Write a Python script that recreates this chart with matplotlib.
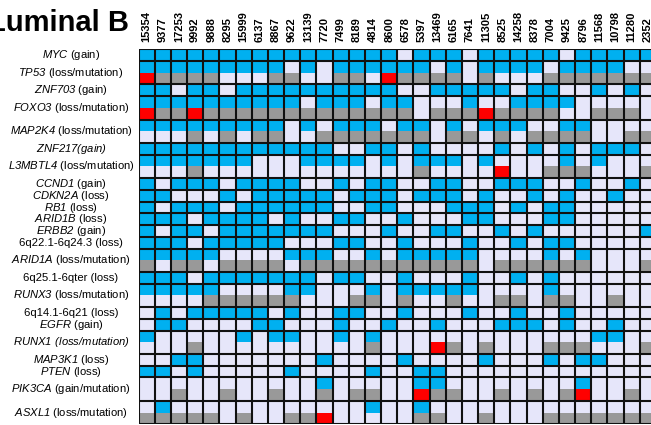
import matplotlib

matplotlib.use("Agg")
import matplotlib.pyplot as plt
import numpy as np
from matplotlib.colors import ListedColormap
from matplotlib.transforms import blended_transform_factory

plt.rcParams["font.family"] = ["Liberation Sans", "DejaVu Sans"]
plt.rcParams["mathtext.fontset"] = "custom"
plt.rcParams["mathtext.rm"] = "Liberation Sans"
# the 'it' slot sets digits upright, so italic gene names go through 'sf'
plt.rcParams["mathtext.sf"] = "Liberation Sans:italic"

samples = [
    "15354", "9377", "17253", "9992", "9888", "8295", "15999", "6137",
    "8867", "9622", "13139", "7720", "7499", "8189", "4814", "8600",
    "6578", "5397", "13469", "6165", "7641", "11305", "8525", "14258",
    "8378", "7004", "9425", "8796", "11568", "10798", "11280", "2352",
]

row_labels = [
    r"$\mathsf{MYC}$ (gain)",
    r"$\mathsf{TP53}$ (loss/mutation)",
    r"$\mathsf{ZNF703}$ (gain)",
    r"$\mathsf{FOXO3}$ (loss/mutation)",
    r"$\mathsf{MAP2K4}$ (loss/mutation)",
    r"$\mathsf{ZNF217(gain)}$",
    r"$\mathsf{L3MBTL4}$ (loss/mutation)",
    r"$\mathsf{CCND1}$ (gain)",
    r"$\mathsf{CDKN2A}$ (loss)",
    r"$\mathsf{RB1}$ (loss)",
    r"$\mathsf{ARID1B}$ (loss)",
    r"$\mathsf{ERBB2}$ (gain)",
    "6q22.1-6q24.3 (loss)",
    r"$\mathsf{ARID1A}$ (loss/mutation)",
    "6q25.1-6qter (loss)",
    r"$\mathsf{RUNX3}$ (loss/mutation)",
    "6q14.1-6q21 (loss)",
    r"$\mathsf{EGFR}$ (gain)",
    r"$\mathsf{RUNX1\ (loss/mutation)}$",
    r"$\mathsf{MAP3K1}$ (loss)",
    r"$\mathsf{PTEN}$ (loss)",
    r"$\mathsf{PIK3CA}$ (gain/mutation)",
    r"$\mathsf{ASXL1}$ (loss/mutation)",
]

# copy number call per sample: B = altered, L = not altered
cna_calls = [
    "BBBBBBBBBBBBBBBBLBBBLBBBBBLBBBBB",  # MYC
    "BBBBBBBBBLBLBBBBBBLBLBBBBLBBBBLL",  # TP53
    "BBLBBLBBBBBBBBBBLLBBBBBLBBLLBLBL",  # ZNF703
    "BBBBBBBBBBLBBBLBBLLLBLLBBBBLLLLL",  # FOXO3
    "BBBBBBBBBLBLBBBLBBLBLBBBLLBBLLLL",  # MAP2K4
    "BBBBBBBBBBBBLLBBLBLLLLBLBLBLBBBL",  # ZNF217
    "BBBBBBBLLLBBBBLBLBBBLBLLLLBLBLLL",  # L3MBTL4
    "BLBBBLBBBBLLBLBBLLBBLLBBBLLBLLBL",  # CCND1
    "BBLLLBLBBBBBLBBBLBBBLBLLBLBLLBLL",  # CDKN2A
    "BLBBBLBBBBBBLLBBLLLBBBLBLBBLLLLL",  # RB1
    "BBBLBBBBLBLLBBLLBLLLBBLLLBBLLLLL",  # ARID1B
    "BLBBLBBBBBBBLLLBLLBBLLBLBLLLLLLB",  # ERBB2
    "BBBLBBBBBLLLBBLLBLLLBLLBLBBLLLLL",  # 6q22.1-6q24.3
    "BBBBBLLLLBBBLLBLBBBBBLLLLBLBLLLL",  # ARID1A
    "BBBLBBBBBBBLBBLLBLLLBLLBLBLLLLLL",  # 6q25.1-6qter
    "BBBBBLLLLBBLLLBLBBBBBLLLLBLLLLLL",  # RUNX3
    "LBLBBBBBLBLLBBLLBLLLBLLBLLBLLLLL",  # 6q14.1-6q21
    "LBBLLLLBBLLLBLLBLLBLLLBBBLBLLBLL",  # EGFR
    "BLLLLLBLBBLLBLBLLLLLLLLLLLLLBBLL",  # RUNX1
    "LLBBLLLLLLLBLLLLBLLLLBLLLBLBBLLL",  # MAP3K1
    "BBLBLLLLLBLLLLBLLBBLLLLLLLLLLLLL",  # PTEN
    "LLLLLLLLLLLBLLLLLBBLLLLLLLLBLLLL",  # PIK3CA
    "LBLLLLLLLLLLLLBLLBLLLLLLLLLLLLLL",  # ASXL1
]

# lower half of the split rows: G = mutation, R = red-coded mutation, L = none
mutation_calls = [
    None,
    "RGGGGLLLGGLLGGLRGGGGLGLLLGGGGGGG",  # TP53
    None,
    "RGGRGGGGGGGGGGGGGLGGGRGGGGLLGGGL",  # FOXO3
    "LLLGLGLGGLLGGGGGGGLGGLGLGGGGLLGG",  # MAP2K4
    None,
    "LLLGLLLLLLLLLLLLLGLLLLRLLGGGLLLG",  # L3MBTL4
    None, None, None, None, None, None,
    "GLGGLGGGGLGGGGGGGGGGGLGGGGGGLLLG",  # ARID1A
    None,
    "LLLLGGGGGGLLLGGLGLLGLLGGLGGLLGLL",  # RUNX3
    None, None,
    "LLLGLLLLLLLLLLGLLLRGLGLLLGGGLLLG",  # RUNX1
    None, None,
    "LLGLLGLLGLLGLGGLLRGGLLGLGLGRLLGL",  # PIK3CA
    "GGGGGLGLLGGRLLLLLGGLLGLLLGGGGGGG",  # ASXL1
]

codes = {"L": 0, "B": 1, "G": 2, "R": 3}
cell_colors = ListedColormap(["#e6e6fa", "#00b0f0", "#999999", "#ff0000"])

strips = []
bounds = [0]
for cna, mut in zip(cna_calls, mutation_calls):
    strips.append([codes[c] for c in cna])
    if mut is not None:
        strips.append([codes[c] for c in mut])
    bounds.append(len(strips))
grid = np.array(strips)
n_units, n_cols = grid.shape

fig = plt.figure(figsize=(6.51, 4.25), dpi=100)
ax = fig.add_axes([138.5 / 651, 0.7 / 425, 512.5 / 651, 375 / 425])

ax.pcolormesh(
    np.arange(n_cols + 1), np.arange(n_units + 1), grid,
    cmap=cell_colors, vmin=-0.5, vmax=3.5,
)
ax.vlines(np.arange(n_cols + 1), 0, n_units, colors="#111111", linewidth=1.5)
ax.hlines(bounds, 0, n_cols, colors="#111111", linewidth=1.5)

ax.set_xlim(0, 512.5 / 16.17)
ax.set_ylim(n_units, 0)
ax.xaxis.tick_top()
ax.set_xticks(np.arange(n_cols) + 0.5, samples, rotation=90, fontsize=8, fontweight="bold")
ax.tick_params(axis="x", length=0, pad=5)
ax.set_yticks([])
for spine in ax.spines.values():
    spine.set_visible(False)

label_trans = blended_transform_factory(fig.transFigure, ax.transData)
for i, label in enumerate(row_labels):
    y = (bounds[i] + bounds[i + 1]) / 2
    ax.text(71 / 651, y, label, transform=label_trans, ha="center", va="center",
            fontsize=8.1, clip_on=False)

fig.text(-12 / 651, 1 - 31 / 425, "Luminal B", fontsize=21, fontweight="bold",
         ha="left", va="baseline")

fig.savefig("out.png", dpi=100)
